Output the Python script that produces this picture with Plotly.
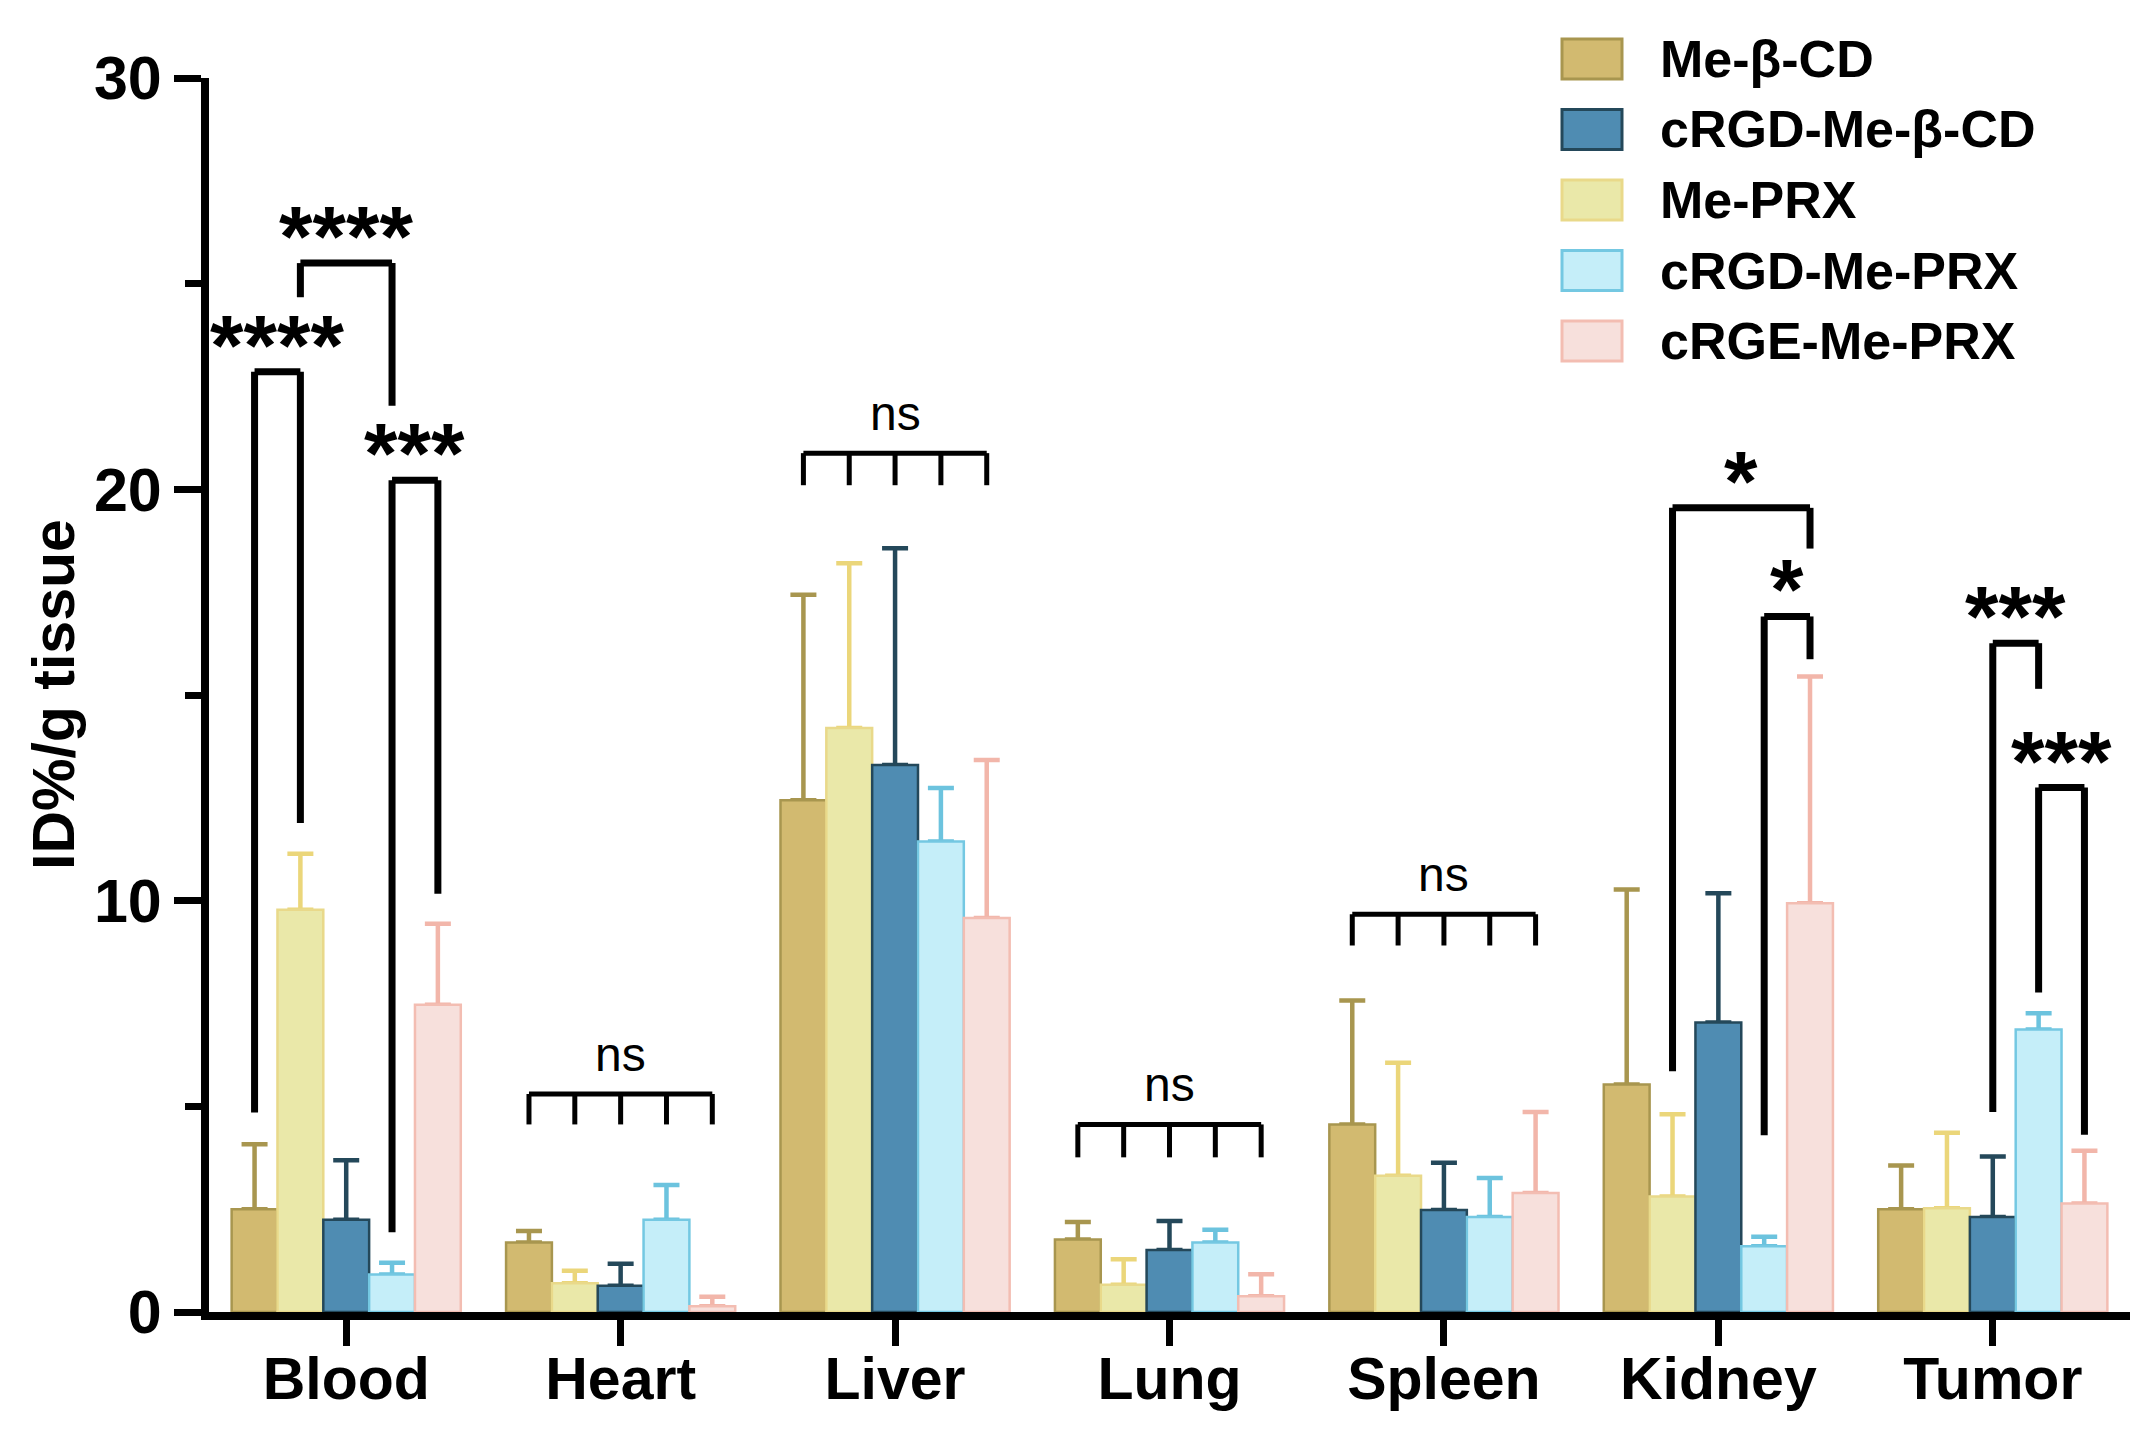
import plotly.graph_objects as go

# ---------------- data ----------------
categories = ["Blood", "Heart", "Liver", "Lung", "Spleen", "Kidney", "Tumor"]
series_names = ["Me-β-CD", "Me-PRX", "cRGD-Me-β-CD", "cRGD-Me-PRX", "cRGE-Me-PRX"]

me_bcd = [2.50, 1.69, 12.44, 1.76, 4.56, 5.53, 2.50]
me_bcd_err = [1.58, 0.28, 5.00, 0.43, 3.01, 4.74, 1.06]

me_prx = [9.78, 0.70, 14.20, 0.66, 3.31, 2.81, 2.52]
me_prx_err = [1.36, 0.30, 4.00, 0.62, 2.75, 2.00, 1.84]

crgd_me_bcd = [2.24, 0.64, 13.30, 1.51, 2.48, 7.04, 2.31]
crgd_me_bcd_err = [1.45, 0.53, 5.27, 0.70, 1.15, 3.14, 1.47]

crgd_me_prx = [0.91, 2.24, 11.44, 1.69, 2.31, 1.60, 6.87]
crgd_me_prx_err = [0.29, 0.85, 1.30, 0.31, 0.95, 0.23, 0.39]

crge_me_prx = [7.47, 0.14, 9.58, 0.38, 2.89, 9.94, 2.64]
crge_me_prx_err = [1.97, 0.23, 3.84, 0.54, 1.97, 5.51, 1.28]

values = [me_bcd, me_prx, crgd_me_bcd, crgd_me_prx, crge_me_prx]
errors = [me_bcd_err, me_prx_err, crgd_me_bcd_err, crgd_me_prx_err, crge_me_prx_err]

y_ticks = [0, 10, 20, 30]
y_title = "ID%/g tissue"

# significance brackets: (category index, left bar, right bar, top, left leg end, right leg end, label)
sig_brackets = [
    (0, 0, 1, 22.86, 4.85, 11.89, "****"),
    (0, 1, 3, 25.50, 24.67, 22.03, "****"),
    (0, 3, 4, 20.22, 1.94, 10.17, "***"),
    (5, 1, 4, 19.55, 5.85, 18.56, "*"),
    (5, 3, 4, 16.91, 4.30, 15.87, "*"),
    (6, 2, 3, 16.26, 4.86, 15.15, "***"),
    (6, 3, 4, 12.75, 7.77, 4.31, "***"),
]
# "ns" brackets spanning all five bars: (category index, top, leg end)
ns_brackets = [
    (1, 5.30, 4.56),
    (2, 20.88, 20.10),
    (3, 4.56, 3.76),
    (4, 9.67, 8.91),
]
legend_order = [0, 2, 1, 3, 4]

# ---------------- styles ----------------
fills = ["#D2BA70", "#EAE8A9", "#4F8CB2", "#C5EEF9", "#F7E0DC"]
outlines = ["#A8964F", "#E9D98A", "#24485A", "#74C8E2", "#F3BDB2"]
err_colors = ["#A8964F", "#EBD67A", "#24485A", "#6CC3DE", "#F2B6AA"]

FONT = "Liberation Sans"
W, H = 2150, 1430
ML, MR, MT, MB = 201, 28, 70, 126
PW, PH = W - ML - MR, H - MT - MB
BARGAP = 0.165
nser = len(series_names)
bar_w = (1 - BARGAP) / nser


def bar_x(cat, i):
    return cat + (i - (nser - 1) / 2) * bar_w


def px2paper_x(px):
    return (px - ML) / PW


def py2paper_y(py):
    return (H - MB - py) / PH


fig = go.Figure()
# error bars first (transparent carriers sharing each series' slot), so the bars cover their lower part
for i, name in enumerate(series_names):
    fig.add_trace(go.Bar(
        x=categories, y=values[i], name=name + " SD", offsetgroup=str(i),
        marker=dict(color="rgba(0,0,0,0)", line=dict(width=0)),
        error_y=dict(type="data", symmetric=False, array=errors[i],
                     arrayminus=[0] * len(categories),
                     color=err_colors[i], thickness=4.5, width=13),
        showlegend=False, hoverinfo="skip",
    ))
for i, name in enumerate(series_names):
    fig.add_trace(go.Bar(
        x=categories, y=values[i], name=name, offsetgroup=str(i),
        marker=dict(color=fills[i], line=dict(color=outlines[i], width=2.5)),
        showlegend=False,
    ))

shapes = []
annotations = []
BLK = "black"
for cat, li, ri, top, lend, rend, lab in sig_brackets:
    xl, xr = bar_x(cat, li), bar_x(cat, ri)
    for (x0, y0, x1, y1) in [(xl, lend, xl, top), (xl, top, xr, top), (xr, top, xr, rend)]:
        shapes.append(dict(type="line", xref="x", yref="y", x0=x0, y0=y0, x1=x1, y1=y1,
                           line=dict(color=BLK, width=7)))
    annotations.append(dict(x=(xl + xr) / 2, y=top + 0.9, xref="x", yref="y", text=lab,
                            showarrow=False, yanchor="middle", yshift=-10,
                            font=dict(family=FONT, size=86, color=BLK, weight="bold")))

for cat, top, leg in ns_brackets:
    xl, xr = bar_x(cat, 0), bar_x(cat, nser - 1)
    shapes.append(dict(type="line", xref="x", yref="y", x0=xl, y0=top, x1=xr, y1=top,
                       line=dict(color=BLK, width=5)))
    for i in range(nser):
        xi = bar_x(cat, i)
        shapes.append(dict(type="line", xref="x", yref="y", x0=xi, y0=top, x1=xi, y1=leg,
                           line=dict(color=BLK, width=5)))
    annotations.append(dict(x=cat, y=top + 0.87, xref="x", yref="y", text="ns",
                            showarrow=False, yanchor="middle", yshift=4,
                            font=dict(family=FONT, size=48, color=BLK)))

# legend drawn manually (big swatches)
for row, i in enumerate(legend_order):
    cy = 51 + 70.5 * row
    shapes.append(dict(type="rect", xref="paper", yref="paper",
                       x0=px2paper_x(1554), x1=px2paper_x(1614),
                       y0=py2paper_y(cy + 20), y1=py2paper_y(cy - 20),
                       fillcolor=fills[i], line=dict(color=outlines[i], width=3)))
    annotations.append(dict(x=px2paper_x(1650), y=py2paper_y(cy), xref="paper", yref="paper",
                            text=series_names[i], showarrow=False, xanchor="left", yanchor="middle",
                            font=dict(family=FONT, size=52, color=BLK, weight="bold")))

annotations.append(dict(x=px2paper_x(46), y=py2paper_y(687), xref="paper", yref="paper",
                        text=y_title, textangle=-90, showarrow=False,
                        xanchor="center", yanchor="middle",
                        font=dict(family=FONT, size=59, color=BLK, weight="bold")))

fig.update_layout(
    width=W, height=H,
    margin=dict(l=ML, r=MR, t=MT, b=MB, pad=0),
    paper_bgcolor="white", plot_bgcolor="white",
    barmode="group", bargap=BARGAP, bargroupgap=0,
    shapes=shapes, annotations=annotations,
    showlegend=False,
    xaxis=dict(type="category", range=[-0.5, 6.5], showline=True, linecolor=BLK, linewidth=8,
               ticks="outside", ticklen=26, tickwidth=7, tickcolor=BLK, showgrid=False,
               zeroline=False, ticklabelstandoff=-18,
               tickfont=dict(family=FONT, size=59, color=BLK, weight="bold")),
    yaxis=dict(range=[0, 30], tickvals=y_ticks, showline=True, linecolor=BLK, linewidth=8,
               ticks="outside", ticklen=27, tickwidth=7, tickcolor=BLK, showgrid=False,
               zeroline=False,
               minor=dict(dtick=5, ticks="outside", ticklen=16, tickwidth=7, tickcolor=BLK,
                          showgrid=False),
               tickfont=dict(family=FONT, size=61, color=BLK, weight="bold")),
)

fig.write_html("out.html")
